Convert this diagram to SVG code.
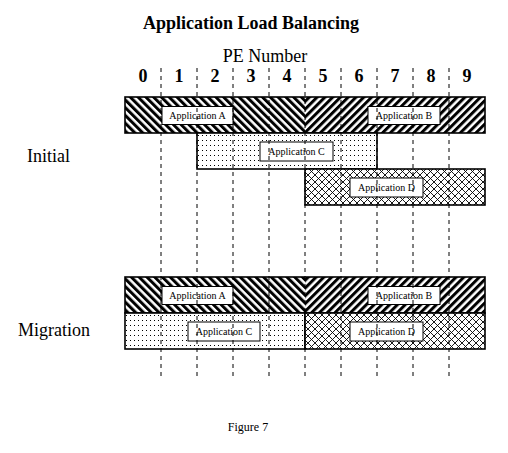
<svg xmlns="http://www.w3.org/2000/svg" width="508" height="453" viewBox="0 0 508 453">
<style>
.t{font-family:"Liberation Serif","Times New Roman",serif;fill:#000}
.bar{stroke:#000;stroke-width:1.6}
.fillonly{stroke:none}
.outline{fill:none;stroke:#000;stroke-width:1.6}
.lbl{fill:#fff;stroke:#000;stroke-width:1}
.lt{font-family:"Liberation Serif","Times New Roman",serif;font-size:10px;text-anchor:middle}
.grid line{stroke:#000;stroke-width:1;stroke-dasharray:4 4}
</style>
<defs>
<pattern id="bs" width="5.5" height="5.5" patternUnits="userSpaceOnUse" patternTransform="rotate(-45)">
<rect width="5.5" height="5.5" fill="#fff"/><rect width="3" height="5.5" fill="#000"/>
</pattern>
<pattern id="fs" width="5.5" height="5.5" patternUnits="userSpaceOnUse" patternTransform="rotate(45)">
<rect width="5.5" height="5.5" fill="#fff"/><rect width="3" height="5.5" fill="#000"/>
</pattern>
<pattern id="dots" width="4" height="5" patternUnits="userSpaceOnUse" x="126" y="135">
<rect width="4" height="5" fill="#fff"/><rect width="1" height="1" fill="#000"/>
</pattern>
<pattern id="xh" width="7" height="7" patternUnits="userSpaceOnUse">
<rect width="7" height="7" fill="#fff"/><path d="M0,0L7,7M7,0L0,7" stroke="#000" stroke-width="0.9"/>
</pattern>
</defs>
<rect width="508" height="453" fill="#fff"/>
<text class="t" x="251" y="29" font-size="18" font-weight="bold" text-anchor="middle">Application Load Balancing</text>
<text class="t" x="265" y="62" font-size="18" text-anchor="middle">PE Number</text>
<g class="t" font-size="18" font-weight="bold" text-anchor="middle">
<text x="143" y="82">0</text><text x="179" y="82">1</text><text x="215" y="82">2</text><text x="251" y="82">3</text><text x="287" y="82">4</text><text x="323" y="82">5</text><text x="359" y="82">6</text><text x="395" y="82">7</text><text x="431" y="82">8</text><text x="467" y="82">9</text>
</g>
<text class="t" x="27" y="162" font-size="18">Initial</text>
<text class="t" x="18" y="336" font-size="18">Migration</text>
<g id="initial-a"><rect class="fillonly" x="125" y="97" width="180" height="36" fill="url(#bs)"/><rect class="lbl" x="162" y="106.5" width="71" height="18"/><text class="lt" x="197.5" y="119">Application A</text></g>
<g id="initial-b"><rect class="fillonly" x="305" y="97" width="180" height="36" fill="url(#fs)"/><rect class="lbl" x="368" y="106.5" width="72" height="18"/><text class="lt" x="404" y="119">Application B</text></g>
<rect class="outline" x="125" y="97" width="360" height="36"/>
<g id="initial-c"><rect class="bar" x="197" y="133" width="180" height="36" fill="url(#dots)"/><rect class="lbl" x="260" y="142" width="73" height="19"/><text class="lt" x="296.5" y="155">Application C</text></g>
<g id="initial-d"><rect class="bar" x="305" y="169" width="180" height="36" fill="url(#xh)"/><rect class="lbl" x="350" y="178" width="73" height="19"/><text class="lt" x="386.5" y="191">Application D</text></g>
<g id="migration-a"><rect class="fillonly" x="125" y="277" width="180" height="36" fill="url(#bs)"/><rect class="lbl" x="162" y="286.5" width="71" height="18"/><text class="lt" x="197.5" y="299">Application A</text></g>
<g id="migration-b"><rect class="fillonly" x="305" y="277" width="180" height="36" fill="url(#fs)"/><rect class="lbl" x="368" y="286.5" width="72" height="18"/><text class="lt" x="404" y="299">Application B</text></g>
<rect class="outline" x="125" y="277" width="360" height="36"/>
<g id="migration-c"><rect class="bar" x="125" y="313" width="180" height="36" fill="url(#dots)"/><rect class="lbl" x="188" y="322" width="72" height="19"/><text class="lt" x="224" y="335">Application C</text></g>
<g id="migration-d"><rect class="bar" x="305" y="313" width="180" height="36" fill="url(#xh)"/><rect class="lbl" x="350" y="322" width="73" height="19"/><text class="lt" x="386.5" y="335">Application D</text></g>
<g id="connectors" class="grid">
<line x1="161" y1="68" x2="161" y2="380"/><line x1="197" y1="68" x2="197" y2="380"/><line x1="233" y1="68" x2="233" y2="380"/><line x1="269" y1="68" x2="269" y2="380"/><line x1="305" y1="68" x2="305" y2="380"/><line x1="341" y1="68" x2="341" y2="380"/><line x1="377" y1="68" x2="377" y2="380"/><line x1="413" y1="68" x2="413" y2="380"/><line x1="449" y1="68" x2="449" y2="380"/>
</g>
<text class="t" x="248" y="431" font-size="12" text-anchor="middle">Figure 7</text>
</svg>
